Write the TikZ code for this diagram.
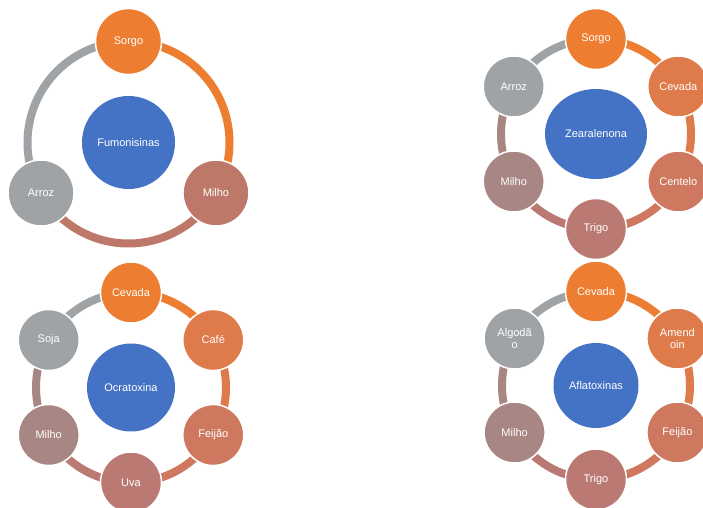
\documentclass[tikz,border=0pt]{standalone}
\usepackage{fontspec}
\setmainfont{Liberation Sans}
\usetikzlibrary{shapes.geometric,backgrounds}
\definecolor{cBlue}{HTML}{4472C4}
\definecolor{cA}{HTML}{ED7D31}
\definecolor{cB}{HTML}{DF7A4A}
\definecolor{cC}{HTML}{CE785F}
\definecolor{cD}{HTML}{BA7A73}
\definecolor{cE}{HTML}{A88684}
\definecolor{cF}{HTML}{A0A3A6}
\definecolor{cM}{HTML}{BE7869}
\tikzset{
  lbl/.style={text=white, font=\fontsize{11}{12}\selectfont, align=center},
  hub/.style={lbl, circle, fill=cBlue, inner sep=0pt},
  sat/.style={lbl, circle, draw=white, line width=1.5pt, inner sep=0pt, minimum size=61pt},
  bigsat/.style={sat, minimum size=66pt},
  ring/.style={line width=8pt},
}
\begin{document}
\begin{tikzpicture}[x=1pt,y=1pt]
\useasboundingbox (0,0) rectangle (703,507);
\begin{scope}[on background layer]
  \fill[white] (0,0) rectangle (703,507);
\end{scope}

% ---------- Fumonisinas ----------
\begin{scope}[shift={(128.5,364.5)}]
  \node[hub, minimum size=93pt] (f0) at (0,0) {Fumonisinas};
  \foreach \nm/\ang/\col/\txt in {f1/90/cA/Sorgo, f2/-30/cM/Milho, f3/210/cF/Arroz}
    \node[bigsat, fill=\col] (\nm) at (\ang:101) {\txt};
  \begin{scope}[on background layer]
    \foreach \nm/\ang/\col in {f1/90/cA, f2/-30/cM, f3/210/cF}
      \draw[ring, \col] (\nm.center) arc[start angle=\ang, delta angle=-120, radius=101];
  \end{scope}
\end{scope}

% ---------- Zearalenona ----------
\begin{scope}[shift={(596,373)}]
  \node[hub, ellipse, minimum width=102pt, minimum height=90pt] (z0) at (0,0) {Zearalenona};
  \foreach \nm/\ang/\col/\txt in {z1/90/cA/Sorgo, z2/30/cB/Cevada, z3/-30/cC/Centelo, z4/-90/cD/Trigo, z5/-150/cE/Milho, z6/150/cF/Arroz}
    \node[sat, fill=\col] (\nm) at (\ang:95) {\txt};
  \begin{scope}[on background layer]
    \foreach \nm/\ang/\col in {z1/90/cA, z2/30/cB, z3/-30/cC, z4/-90/cD, z5/-150/cE, z6/150/cF}
      \draw[ring, \col] (\nm.center) arc[start angle=\ang, delta angle=-60, radius=95];
  \end{scope}
\end{scope}

% ---------- Ocratoxina ----------
\begin{scope}[shift={(131,119.5)}]
  \node[hub, minimum size=88pt] (o0) at (0,0) {Ocratoxina};
  \foreach \nm/\ang/\col/\txt in {o1/90/cA/Cevada, o2/30/cB/Café, o3/-30/cC/Feijão, o4/-90/cD/Uva, o5/-150/cE/Milho, o6/150/cF/Soja}
    \node[sat, fill=\col] (\nm) at (\ang:95) {\txt};
  \begin{scope}[on background layer]
    \foreach \nm/\ang/\col in {o1/90/cA, o2/30/cB, o3/-30/cC, o4/-90/cD, o5/-150/cE, o6/150/cF}
      \draw[ring, \col] (\nm.center) arc[start angle=\ang, delta angle=-60, radius=95];
  \end{scope}
\end{scope}

% ---------- Aflatoxinas ----------
\begin{scope}[shift={(596,121.5)}]
  \node[hub, minimum size=85pt] (a0) at (0,0) {Aflatoxinas};
  \foreach \nm/\ang/\col/\txt in {a1/90/cA/Cevada, a2/30/cB/{Amend\\oin}, a3/-30/cC/Feijão, a4/-90/cD/Trigo, a5/-150/cE/Milho, a6/150/cF/{Algodã\\o}}
    \node[sat, fill=\col] (\nm) at (\ang:94) {\txt};
  \begin{scope}[on background layer]
    \foreach \nm/\ang/\col in {a1/90/cA, a2/30/cB, a3/-30/cC, a4/-90/cD, a5/-150/cE, a6/150/cF}
      \draw[ring, \col] (\nm.center) arc[start angle=\ang, delta angle=-60, radius=94];
  \end{scope}
\end{scope}
\end{tikzpicture}
\end{document}
